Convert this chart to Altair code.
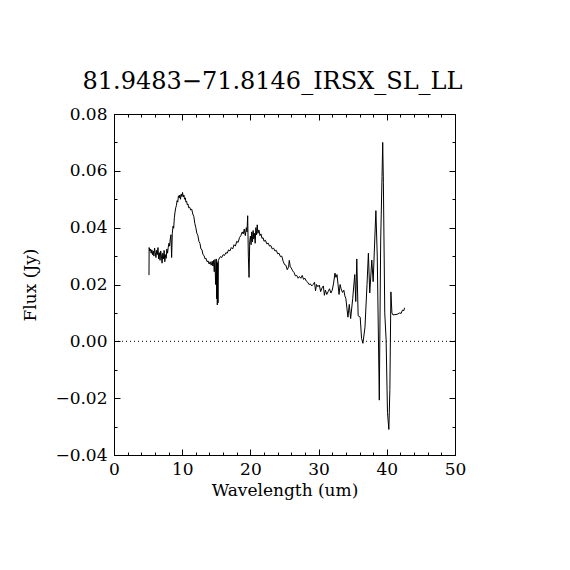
import altair as alt
import pandas as pd

# Spectrum
wavelength = [
    5.13, 5.15, 5.25, 5.35, 5.45, 5.55, 5.65, 5.75, 5.85, 5.95,
    6.05, 6.15, 6.25, 6.35, 6.45, 6.55, 6.65, 6.75, 6.85, 6.95,
    7.05, 7.15, 7.25, 7.35, 7.45, 7.55, 7.65, 7.75, 7.85, 7.95,
    8.05, 8.15, 8.25, 8.35, 8.45,
    8.55, 8.65, 8.75, 8.85, 8.95, 9.05, 9.15, 9.25, 9.35, 9.45,
    9.55, 9.65, 9.75, 9.85, 9.95, 10.05, 10.15, 10.25, 10.35, 10.45,
    10.55, 10.65, 10.75, 10.85, 10.95, 11.1, 11.25, 11.4, 11.55, 11.7,
    11.85, 12.0, 12.15, 12.3, 12.45, 12.6, 12.75, 12.9, 13.05, 13.2,
    13.35, 13.5, 13.65, 13.8, 13.95, 14.1, 14.25, 14.4, 14.5, 14.6,
    14.7, 14.8, 14.9, 15.0, 15.05, 15.1, 15.15, 15.2, 15.25, 15.3,
    15.4, 15.6, 15.8, 16.0, 16.2, 16.4, 16.6, 16.8, 17.0, 17.2,
    17.4, 17.6, 17.8, 18.0, 18.2, 18.4, 18.6, 18.8, 18.95, 19.1,
    19.25, 19.4, 19.5, 19.6, 19.7, 19.8,
    19.9, 20.0, 20.1, 20.2, 20.3, 20.4, 20.5, 20.6, 20.7, 20.8,
    20.9, 21.0, 21.1, 21.25, 21.4, 21.55, 21.7, 21.85, 22.0, 22.2,
    22.4, 22.6, 22.8, 23.0, 23.2, 23.4, 23.6, 23.8, 24.0, 24.2,
    24.4, 24.6, 24.8, 25.0, 25.2, 25.4, 25.6, 25.7, 25.85, 26.0,
    26.2, 26.4, 26.6, 26.8, 27.0, 27.2, 27.4, 27.6, 27.8, 28.0,
    28.2, 28.4, 28.6, 28.8, 29.0, 29.2, 29.4, 29.55, 29.7, 29.9,
    30.1, 30.3, 30.5, 30.7, 30.85, 31.0, 31.2, 31.4, 31.6, 31.8,
    32.0, 32.2, 32.4, 32.55, 32.7, 32.85, 33.0, 33.15, 33.3, 33.5,
    33.7, 33.85, 34.0,
    34.3, 34.5, 34.7, 35.0, 35.3, 35.45, 35.6, 35.8, 36.1, 36.3,
    36.5, 36.8, 37.1, 37.3, 37.5, 37.8, 38.0, 38.4, 38.6, 38.9,
    39.1, 39.3, 39.4, 39.5, 39.7, 39.9, 40.1, 40.3, 40.45, 40.6,
    40.75, 40.9, 41.5, 41.9, 42.1, 42.3, 42.5, 42.6,
]
flux = [
    0.0233, 0.0330, 0.0318, 0.0325, 0.0310, 0.0322, 0.0305, 0.0318, 0.0300, 0.0328,
    0.0312, 0.0295, 0.0320, 0.0305, 0.0330, 0.0290, 0.0312, 0.0285, 0.0318, 0.0300,
    0.0275, 0.0310, 0.0290, 0.0320, 0.0280, 0.0305, 0.0292, 0.0325, 0.0310, 0.0330,
    0.0345, 0.0335, 0.0360, 0.0375, 0.0295,
    0.0380, 0.0405, 0.0398, 0.0435, 0.0455, 0.0470, 0.0478, 0.0495, 0.0490, 0.0512,
    0.0505, 0.0515, 0.0500, 0.0518, 0.0510, 0.0524, 0.0508, 0.0515, 0.0500, 0.0505,
    0.0490, 0.0493, 0.0480, 0.0483, 0.0470, 0.0472, 0.0462, 0.0465, 0.0448, 0.0440,
    0.0415, 0.0400, 0.0380, 0.0372, 0.0352, 0.0345, 0.0325, 0.0322, 0.0305, 0.0302,
    0.0290, 0.0292, 0.0280, 0.0283, 0.0272, 0.0280, 0.0268, 0.0282, 0.0265, 0.0285,
    0.0245, 0.0288, 0.0200, 0.0290, 0.0150, 0.0280, 0.0128, 0.0275, 0.0135, 0.0285,
    0.0290, 0.0298, 0.0295, 0.0305, 0.0302, 0.0312, 0.0310, 0.0322, 0.0318, 0.0330,
    0.0325, 0.0340, 0.0335, 0.0352, 0.0348, 0.0365, 0.0372, 0.0385, 0.0378, 0.0395,
    0.0372, 0.0400, 0.0385, 0.0442, 0.0300, 0.0225,
    0.0350, 0.0370, 0.0340, 0.0385, 0.0350, 0.0390, 0.0360, 0.0380, 0.0345, 0.0400,
    0.0375, 0.0410, 0.0380, 0.0392, 0.0372, 0.0378, 0.0362, 0.0365, 0.0352, 0.0356,
    0.0343, 0.0346, 0.0335, 0.0337, 0.0325, 0.0328, 0.0318, 0.0320, 0.0308, 0.0310,
    0.0298, 0.0300, 0.0282, 0.0270, 0.0268, 0.0252, 0.0262, 0.0285, 0.0262, 0.0258,
    0.0248, 0.0242, 0.0230, 0.0232, 0.0222, 0.0228, 0.0222, 0.0232, 0.0218, 0.0222,
    0.0212, 0.0208, 0.0200, 0.0202, 0.0195, 0.0200, 0.0208, 0.0178, 0.0200, 0.0192,
    0.0198, 0.0175, 0.0188, 0.0195, 0.0162, 0.0180, 0.0165, 0.0175, 0.0185, 0.0170,
    0.0180, 0.0205, 0.0240, 0.0225, 0.0235, 0.0200, 0.0165, 0.0200, 0.0185, 0.0172,
    0.0180, 0.0160, 0.0150,
    0.0085, 0.0130, 0.0080, 0.0150, 0.0235, 0.0140, 0.0290, 0.0090, 0.0085, 0.0010,
    -0.0007, 0.0050, 0.0200, 0.0310, 0.0170, 0.0286, 0.0210, 0.0460, 0.0300, -0.0207,
    0.0350, 0.0580, 0.0700, 0.0560, 0.0100, 0.0005, -0.0250, -0.0310, -0.0170, 0.0174,
    0.0100, 0.0093, 0.0095, 0.0100, 0.0098, 0.0110, 0.0108, 0.0118,
]

title_text = "81.9483\u221271.8146_IRSX_SL_LL"
x_title = "Wavelength (um)"
y_title = "Flux (Jy)"

x_major = [0, 10, 20, 30, 40, 50]
x_minor = list(range(0, 51, 2))
y_major = [-0.04, -0.02, 0.0, 0.02, 0.04, 0.06, 0.08]
y_minor = [round(-0.04 + 0.01 * i, 2) for i in range(13)]

spec = pd.DataFrame({"wavelength": wavelength, "flux": flux})
zero = pd.DataFrame({"wavelength": [0, 50], "flux": [0.0, 0.0]})
corners = pd.DataFrame({"wavelength": [0, 50], "flux": [-0.04, 0.08]})

FONT = "DejaVu Serif"
MAJ = 6
MIN = 3


def xs():
    return alt.Scale(domain=[0, 50], nice=False, zero=False)


def ys():
    return alt.Scale(domain=[-0.04, 0.08], nice=False, zero=False)


def axis(orient, values, size, labels, title, fmt, lpad, tpad):
    return alt.Axis(
        orient=orient, values=values, tickSize=size, offset=-size,
        domain=False, grid=False, labels=labels, title=title, ticks=True,
        tickColor="black", tickWidth=1, labelFont=FONT, labelFontSize=17,
        labelColor="black", labelPadding=lpad, labelFlush=False,
        labelOverlap=False, labelBound=False, format=fmt,
        titleFont=FONT, titleFontSize=17, titleFontWeight="normal",
        titleColor="black", titlePadding=tpad,
    )


main = alt.Chart(spec).mark_line(color="black", strokeWidth=1).encode(
    x=alt.X("wavelength:Q", scale=xs(),
            axis=axis("bottom", x_major, MAJ, True, x_title, "d", 6, 5)),
    y=alt.Y("flux:Q", scale=ys(),
            axis=axis("left", y_major, MAJ, True, y_title, ".2f", 7, 15)),
)

zline = alt.Chart(zero).mark_line(color="black", strokeWidth=1, strokeDash=[1, 3]).encode(
    x=alt.X("wavelength:Q", scale=xs(),
            axis=axis("top", x_major, MAJ, False, "", "d", 5, 5)),
    y=alt.Y("flux:Q", scale=ys(),
            axis=axis("right", y_major, MAJ, False, "", ".2f", 5, 5)),
)

minor1 = alt.Chart(corners).mark_point(opacity=0).encode(
    x=alt.X("wavelength:Q", scale=xs(),
            axis=axis("bottom", x_minor, MIN, False, "", "d", 5, 5)),
    y=alt.Y("flux:Q", scale=ys(),
            axis=axis("left", y_minor, MIN, False, "", ".2f", 5, 5)),
)

minor2 = alt.Chart(corners).mark_point(opacity=0).encode(
    x=alt.X("wavelength:Q", scale=xs(),
            axis=axis("top", x_minor, MIN, False, "", "d", 5, 5)),
    y=alt.Y("flux:Q", scale=ys(),
            axis=axis("right", y_minor, MIN, False, "", ".2f", 5, 5)),
)

chart = alt.layer(main, zline, minor1, minor2).resolve_scale(
    x="independent", y="independent"
).properties(
    width=341, height=341,
    autosize=alt.AutoSizeParams(type="none"),
    padding={"left": 106, "top": 106, "right": 107, "bottom": 107},
    background="white",
    title=alt.TitleParams(
        text=title_text, font=FONT, fontSize=24, fontWeight="normal",
        anchor="middle", frame="group", offset=24, dx=-12, dy=32,
        baseline="alphabetic", color="black",
    ),
).configure_view(stroke="black", strokeWidth=1)

chart.save("out.html", embed_options={"renderer": "svg", "actions": False})
